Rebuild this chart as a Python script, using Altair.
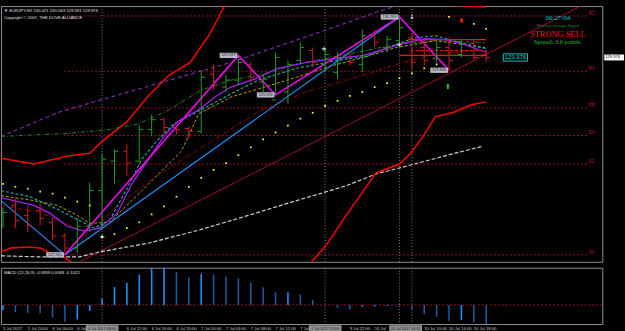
import altair as alt
import pandas as pd

# ---------------- data ----------------
bars = list(range(40))
opens = [128.293, 128.465, 128.364, 128.414, 128.293, 128.152, 128.031, 128.253, 128.616, 128.918,
         129.019, 128.918, 129.241, 129.341, 129.261, 129.251, 129.221, 129.805, 129.674, 129.745,
         129.906, 129.725, 129.543, 129.624, 129.946, 130.047, 129.906, 129.825, 129.977, 129.906,
         130.198, 130.077, 130.148, 130.178, 130.077, 129.967, 130.077, 130.007, 130.118, 130.007]
highs = [128.444, 128.535, 128.465, 128.485, 128.344, 128.182, 128.334, 128.696, 128.999, 129.039,
         129.090, 129.291, 129.392, 129.362, 129.271, 129.271, 129.846, 129.906, 129.795, 129.997,
         129.926, 129.805, 130.027, 129.946, 130.128, 130.077, 130.077, 130.027, 130.027, 130.259,
         130.259, 130.198, 130.390, 130.229, 130.158, 130.148, 130.178, 130.158, 130.158, 130.057]
lows = [128.233, 128.233, 128.193, 128.263, 128.112, 127.981, 127.981, 128.193, 128.213, 128.686,
        128.767, 128.918, 129.170, 129.200, 129.190, 129.150, 129.200, 129.644, 129.624, 129.694,
        129.725, 129.624, 129.594, 129.503, 129.906, 129.876, 129.825, 129.755, 129.896, 129.825,
        130.077, 130.027, 130.077, 129.856, 129.896, 129.926, 129.846, 129.977, 129.946, 129.926]
closes = [128.394, 128.313, 128.263, 128.334, 128.152, 128.031, 128.253, 128.616, 128.938, 129.019,
          128.898, 129.241, 129.341, 129.261, 129.241, 129.221, 129.775, 129.694, 129.745, 129.926,
          129.775, 129.755, 129.977, 129.906, 130.077, 129.926, 130.007, 129.977, 129.926, 130.198,
          130.128, 130.158, 130.279, 129.926, 129.946, 130.077, 129.946, 130.118, 129.977, 129.976]

sar = [128.686, 128.656, 128.636, 128.606, 128.586, 128.545, 128.505, 128.465, 128.142, 128.172,
       128.233, 128.293, 128.374, 128.455, 128.555, 128.656, 128.747, 128.827, 128.898, 128.979,
       129.059, 129.140, 129.211, 129.281, 129.352, 129.412, 129.483, 129.533, 129.584, 129.624,
       129.674, 129.715, 129.765, 129.815, 129.866, 129.906, 130.390, 130.360, 130.319, 130.269]

macd = [-0.026, -0.036, -0.039, -0.041, -0.062, -0.083, -0.072, -0.029, 0.032, 0.088,
        0.110, 0.150, 0.182, 0.184, 0.163, 0.136, 0.154, 0.150, 0.140, 0.131,
        0.110, 0.087, 0.062, 0.062, 0.051, 0.025, 0.002, -0.015, -0.024, -0.008,
        -0.008, -0.005, 0.004, -0.021, -0.046, -0.059, -0.078, -0.075, -0.086, -0.094]

# indicator lines: (bar position, price)
purple_x = [-0.16, 2.5, 3.8, 5.2, 6.6, 7.8, 9.2, 10.4, 11.8, 13.1, 14.2, 15.8, 17.1, 18.4, 20.3, 22.2, 24.5, 26.9, 29.1, 30.9, 32.5, 34.1, 35.7, 37.3, 39.0]
purple_p = [128.545, 128.465, 128.384, 128.253, 128.203, 128.233, 128.384, 128.686, 128.948, 129.190, 129.331, 129.442, 129.573, 129.674, 129.755, 129.866, 129.926, 129.967, 129.997, 130.067, 130.128, 130.168, 130.158, 130.108, 130.027]
cyan_x = [-0.16, 2.2, 4.6, 7.4, 8.6, 10.0, 11.2, 12.6, 13.8, 16.0, 18.4, 20.6, 23.7, 26.9, 29.3, 31.7, 33.3, 34.9, 37.5, 39.0]
cyan_p = [128.616, 128.555, 128.414, 128.233, 128.313, 128.636, 128.938, 129.150, 129.301, 129.442, 129.604, 129.745, 129.866, 129.946, 129.987, 130.108, 130.178, 130.198, 130.108, 130.067]
olive_x = [-0.16, 2.5, 4.4, 6.0, 7.0, 8.6, 11.2, 14.4, 15.8, 18.4, 20.6, 23.7, 26.4, 29.1, 31.7, 34.9, 38.9]
olive_p = [128.565, 128.515, 128.465, 128.364, 128.283, 128.293, 128.616, 129.019, 129.402, 129.573, 129.654, 129.775, 129.886, 129.977, 130.077, 130.148, 130.077]
dred_x = [-0.16, 3.0, 5.4, 7.0, 8.8, 11.8, 15.8, 20.6, 24.5, 28.5, 32.3, 34.9, 38.1]
dred_p = [128.465, 128.394, 128.263, 128.132, 128.414, 128.717, 129.039, 129.422, 129.624, 129.775, 129.926, 130.007, 130.047]
green_x = [-0.16, 5.2, 8.6, 11.0, 13.4, 16.0, 18.4, 20.6, 23.7, 27.7, 31.7, 34.9, 38.9]
green_p = [129.170, 129.200, 129.241, 129.301, 129.442, 129.644, 129.745, 129.795, 129.906, 130.007, 130.108, 130.148, 130.128]
pdash_x = [-0.16, 4.6, 18.4, 25.9, 30.4, 32.5]
pdash_p = [129.170, 129.422, 129.926, 130.249, 130.450, 130.531]
upper_x = [-0.16, 2.5, 5.2, 7.0, 8.0, 10.0, 11.8, 13.4, 15.1, 16.6, 17.5, 18.3, 20.6, 27.7, 34.1, 35.9, 37.3, 39.0]
upper_p = [128.948, 128.888, 128.969, 128.999, 129.120, 129.321, 129.594, 129.795, 129.926, 130.198, 130.410, 130.612, 130.830, 130.930, 130.680, 130.511, 130.501, 130.491]
lower_x = [-0.16, 0.6, 2.0, 3.0, 3.8, 4.9, 6.2, 9.4, 15.8, 22.2, 24.5, 26.1, 27.7, 29.1, 30.1, 32.0, 32.9, 33.9, 34.9, 36.3, 37.8, 39.0]
lower_p = [127.991, 128.031, 128.041, 128.031, 127.981, 127.940, 127.830, 127.610, 127.510, 127.610, 127.830, 128.061, 128.364, 128.616, 128.797, 128.888, 128.999, 129.170, 129.372, 129.412, 129.493, 129.523]
slow_x = [-0.16, 3.0, 6.2, 7.8, 11.8, 15.8, 19.8, 23.7, 27.7, 30.1, 32.0, 34.1, 36.5, 38.7]
slow_p = [127.951, 127.940, 127.940, 127.991, 128.082, 128.213, 128.364, 128.515, 128.666, 128.787, 128.848, 128.918, 128.999, 129.069]
zz_x = [5, 19, 22, 32, 36]
zz_p = [127.961, 129.997, 129.594, 130.390, 129.846]
zz_lbl = ["127.961", "129.997", "129.594", "130.390", "129.846"]
blue_x = [-0.16, 5, 32]
blue_p = [128.515, 127.961, 130.390]
trend_x = [6.2, 47.1]
trend_p = [127.890, 130.531]

pivot_p = [130.400, 129.836, 129.462, 129.180, 128.888, 127.961]
pivot_lbl = ["R2", "R1", "PP", "S1", "S2", "S3"]
pivot_from = 4.9
pivot_to = 47.2

sep_x = [8, 26, 32, 33]
sep_lbl = ["6 Jul 2017 08:00", "7 Jul 2017 20:00", "10 Jul 2017 06:00"]
sep_lbl_x = [8, 26, 32.5]

xlab_i = [0, 2, 4, 6, 10, 12, 14, 16, 18, 20, 22, 24, 28, 30, 34, 36, 38]
xlab_t = ["5 Jul 2017", "5 Jul 20:00", "6 Jul 00:00", "6 Jul", "6 Jul 12:00", "6 Jul 16:00",
          "6 Jul 20:00", "7 Jul 00:00", "7 Jul 04:00", "7 Jul 08:00", "7 Jul 12:00", "7 Jul 1",
          "9 Jul 22:00", "10 Jul", "10 Jul 10:00", "10 Jul 14:00", "10 Jul 18:00"]

ylabels = [130.400, 130.270, 130.140, 129.880, 129.750, 129.620, 129.490, 129.360, 129.230,
           129.100, 128.970, 128.840, 128.710, 128.580, 128.450, 128.320, 128.190, 128.060, 127.930]
last_price = 129.976

hline_p = [130.158, 129.997]
hline_from = [32.7, 32.0]
hline_to = [39.0, 39.0]
hdash_p = [130.047]

# ---------------- chart ----------------
W, H, HM = 609, 259, 57
FONT = "Liberation Sans"
XS = alt.Scale(domain=[-0.16, 48.37], nice=False, zero=False)
YS = alt.Scale(domain=[127.890, 130.501], nice=False, zero=False)
MS = alt.Scale(domain=[-0.0943, 0.1840], nice=False, zero=False)
GREEN, RED = "#22a022", "#d0201c"


def X(f="i"):
    return alt.X(f"{f}:Q", scale=XS, axis=None)


def Y(f="p"):
    return alt.Y(f"{f}:Q", scale=YS, axis=None)


def line(xs, ps, color, width=1.0, dash=None):
    kw = dict(color=color, strokeWidth=width, clip=True)
    if dash:
        kw["strokeDash"] = dash
    return alt.Chart(pd.DataFrame({"i": xs, "p": ps})).mark_line(**kw).encode(x=X(), y=Y())


ohlc = pd.DataFrame({"i": bars, "o": opens, "h": highs, "l": lows, "c": closes})
ohlc["col"] = [GREEN if c >= o else RED for o, c in zip(opens, closes)]
ohlc["il"] = ohlc["i"] - 0.32
ohlc["ir"] = ohlc["i"] + 0.32
col = alt.Color("col:N", scale=None)

yaxis = alt.Axis(orient="right", values=ylabels, labelExpr="format(datum.value, '.3f')", labelFontSize=4.2,
                 labelFont=FONT, labelColor="#d0d0d0", tickColor="#d0d0d0", tickSize=2, domainColor="#d0d0d0",
                 labelPadding=1, grid=False, title=None, labelOverlap=False, labelBaseline="middle")

wick = alt.Chart(ohlc).mark_rule(strokeWidth=1, clip=True).encode(
    x=X(), y=alt.Y("l:Q", scale=YS, axis=yaxis), y2="h:Q", color=col)
otick = alt.Chart(ohlc).mark_rule(strokeWidth=1, clip=True).encode(x=X("il"), x2="i:Q", y=Y("o"), color=col)
ctick = alt.Chart(ohlc).mark_rule(strokeWidth=1, clip=True).encode(x=X("i"), x2="ir:Q", y=Y("c"), color=col)

piv = pd.DataFrame({"p": pivot_p, "t": pivot_lbl, "a": pivot_from, "b": pivot_to})
pivots = alt.Chart(piv).mark_rule(color="#a0102a", strokeDash=[2, 2], strokeWidth=1).encode(
    x=X("a"), x2="b:Q", y=Y())
pivot_txt = alt.Chart(piv).mark_text(color="#c0103a", fontSize=4.5, font=FONT, align="left", baseline="bottom", dx=1).encode(
    x=X("b"), y=Y(), text="t:N")

seps = alt.Chart(pd.DataFrame({"i": sep_x})).mark_rule(color="#808080", strokeDash=[1, 2], strokeWidth=1).encode(x=X())

hl = pd.DataFrame({"p": hline_p, "a": hline_from, "b": hline_to})
hlines = alt.Chart(hl).mark_rule(color="#ff1010", strokeWidth=1.3).encode(x=X("a"), x2="b:Q", y=Y())
hd = pd.DataFrame({"p": hdash_p, "a": [32.9], "b": [39.0]})
hdash = alt.Chart(hd).mark_rule(color="#ff1010", strokeDash=[3, 2], strokeWidth=1).encode(x=X("a"), x2="b:Q", y=Y())

sar_df = pd.DataFrame({"i": bars, "p": sar})
sar_pts = alt.Chart(sar_df).mark_square(color="#ffff00", size=3, opacity=1).encode(x=X(), y=Y())

zz_df = pd.DataFrame({"i": zz_x, "p": zz_p, "t": zz_lbl})
box_shape = "M-1,-0.3L1,-0.3L1,0.3L-1,0.3Z"
zz_box = alt.Chart(zz_df).mark_point(shape=box_shape, size=320, filled=True, color="#b8b8c8", opacity=1,
                                     xOffset=-10).encode(x=X(), y=Y())
zz_txt = alt.Chart(zz_df).mark_text(fontSize=4, font=FONT, color="#202020", xOffset=-10).encode(
    x=X(), y=Y(), text="t:N")

cur = pd.DataFrame({"p": [last_price], "t": ["129.976"]})
cur_axis_box = alt.Chart(cur).mark_point(shape=box_shape, size=400, filled=True, color="#ffffff", opacity=1).encode(
    x=alt.value(621), y=Y())
cur_axis_txt = alt.Chart(cur).mark_text(fontSize=4.2, font=FONT, color="#000000", align="left").encode(
    x=alt.value(612), y=Y(), text="t:N")
cur_box = alt.Chart(cur).mark_point(shape=box_shape, size=600, filled=False, color="#00c8c8", strokeWidth=1,
                                    opacity=1).encode(x=alt.value(521), y=Y())
cur_txt = alt.Chart(cur).mark_text(fontSize=6, font=FONT, color="#00d0d0").encode(
    x=alt.value(521), y=Y(), text="t:N")

hdr = alt.Chart(pd.DataFrame({"t": ["\u25bc EURJPY,H2  130.021 130.043 129.931 129.976",
                                    "Copyright \u00a9 2007, THE DOVE ALLIANCE"],
                              "yy": [5, 12]})).mark_text(
    fontSize=4.3, font=FONT, color="#e0e0e0", align="left").encode(x=alt.value(3), y=alt.Y("yy:Q", scale=None), text="t:N")

sig = pd.DataFrame({"t": ["00:27:04", "Moving Average Signal", "STRONG SELL", "Spread: 3.6 points."],
                    "yy": [12, 20, 28.5, 36.5],
                    "c": ["#00c8d0", "#1f8a4a", "#ff1010", "#20c020"],
                    "s": [7, 4.5, 8.5, 6.5]})
signal = alt.Chart(sig).mark_text(font="Liberation Serif").encode(
    x=alt.value(564), y=alt.Y("yy:Q", scale=None), text="t:N",
    color=alt.Color("c:N", scale=None), size=alt.Size("s:Q", scale=None))

arrows = pd.DataFrame({"i": [37, 35.9, 25.9, 32.0, 33.0, 8.0],
                       "p": [130.35, 129.67, 130.067, 130.108, 130.39, 128.142],
                       "t": ["\u2b07", "\u2b06", "+", "+", "\u2193", "+"],
                       "c": ["#ff1010", "#20e020", "#ffffff", "#ffffff", "#ffffff", "#ffffff"]})
arr = alt.Chart(arrows).mark_text(fontSize=7, font="DejaVu Sans").encode(
    x=X(), y=Y(), text="t:N", color=alt.Color("c:N", scale=None))

main = alt.layer(
    pivots, seps, line(trend_x, trend_p, "#a01020", 1.0),
    line(slow_x, slow_p, "#d0d0d0", 1.2, [4, 2]),
    line(upper_x, upper_p, "#ff0000", 1.5),
    line(lower_x, lower_p, "#ff0000", 1.5),
    line(pdash_x, pdash_p, "#9932cc", 1.0, [4, 3]),
    line(green_x, green_p, "#228b22", 1.0, [4, 2, 1, 2]),
    line(dred_x, dred_p, "#a00000", 1.0, [4, 2, 1, 2]),
    line(olive_x, olive_p, "#b8a000", 1.0, [3, 2]),
    line(cyan_x, cyan_p, "#20b2aa", 1.1, [3, 2]),
    line(purple_x, purple_p, "#a020f0", 1.3),
    line(blue_x, blue_p, "#1e90ff", 1.2),
    line(zz_x, zz_p, "#ff00ff", 1.5),
    hlines, hdash,
    wick, otick, ctick, sar_pts,
    zz_box, zz_txt, arr,
    pivot_txt, cur_box, cur_txt, cur_axis_box, cur_axis_txt, hdr, signal,
).properties(width=W, height=H)

# ---------------- MACD ----------------
mdf = pd.DataFrame({"i": bars, "m": macd})
prev = [macd[0]] + macd[:-1]
mdf["col"] = ["#1e90ff" if m >= q else "#1c5a9c" for m, q in zip(macd, prev)]
mdf["z"] = 0.0
maxis = alt.Axis(orient="right", values=[-0.0943, 0.0, 0.1840],
                 labelExpr="datum.value == 0 ? '0.00' : format(datum.value, '.4f')",
                 labelFontSize=4.2, labelFont=FONT, labelColor="#d0d0d0", tickColor="#d0d0d0", tickSize=2,
                 domainColor="#d0d0d0", labelPadding=1, grid=False, title=None, labelOverlap=False)
hist = alt.Chart(mdf).mark_rule(strokeWidth=1.6).encode(
    x=X(), y=alt.Y("z:Q", scale=MS, axis=maxis), y2="m:Q", color=alt.Color("col:N", scale=None))
zero = alt.Chart(pd.DataFrame({"z": [0.0]})).mark_rule(color="#a0102a", strokeDash=[2, 2]).encode(
    y=alt.Y("z:Q", scale=MS, axis=None))
mseps = alt.Chart(pd.DataFrame({"i": sep_x})).mark_rule(color="#808080", strokeDash=[1, 2]).encode(x=X())
mlabel = alt.Chart(pd.DataFrame({"t": ["MACD (12,26,9) -0.0939 0.0083 -0.1022"]})).mark_text(
    fontSize=4.3, font=FONT, color="#e0e0e0", align="left", baseline="top").encode(
    x=alt.value(3), y=alt.value(3), text="t:N")
xl = pd.DataFrame({"i": xlab_i, "t": xlab_t})
xlabels = alt.Chart(xl).mark_text(fontSize=4.2, font=FONT, color="#d0d0d0", align="left", baseline="middle").encode(
    x=X(), y=alt.value(HM + 5), text="t:N")
sl = pd.DataFrame({"i": sep_lbl_x, "t": sep_lbl})
sep_box = alt.Chart(sl).mark_point(shape="M-1,-0.22L1,-0.22L1,0.22L-1,0.22Z", size=1100, filled=True,
                                   color="#909090", opacity=1).encode(x=X(), y=alt.value(HM + 5))
sep_txt = alt.Chart(sl).mark_text(fontSize=3.8, font=FONT, color="#202020").encode(
    x=X(), y=alt.value(HM + 5), text="t:N")

macd_chart = alt.layer(zero, mseps, hist, mlabel, xlabels, sep_box, sep_txt).properties(width=W, height=HM)

chart = alt.vconcat(main, macd_chart, spacing=3).configure(
    background="#000000",
    padding={"left": 0, "top": 3, "right": 0, "bottom": 0},
).configure_view(stroke="#909090", strokeWidth=1)

chart.save("out.html", embed_options={"renderer": "svg", "actions": False})
